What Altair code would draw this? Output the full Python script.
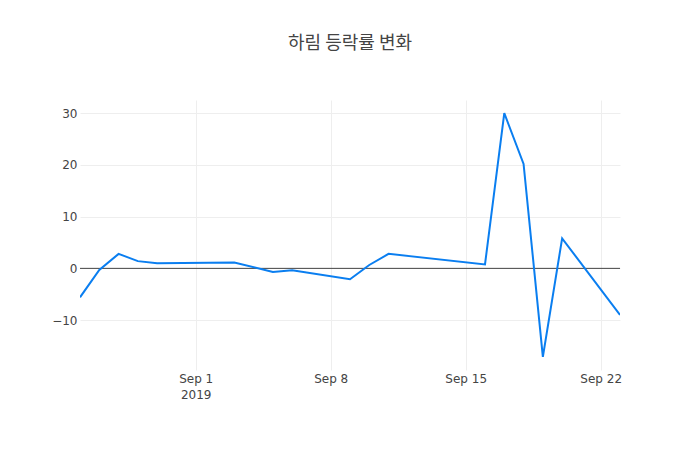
import altair as alt
import pandas as pd

dates = [
    "2019-08-26", "2019-08-27", "2019-08-28", "2019-08-29", "2019-08-30",
    "2019-09-03", "2019-09-05", "2019-09-06", "2019-09-09", "2019-09-10",
    "2019-09-11", "2019-09-16", "2019-09-17", "2019-09-18", "2019-09-19",
    "2019-09-20", "2019-09-23",
]
change = [
    -5.6, -0.3, 2.8, 1.4, 1.0,
    1.15, -0.7, -0.35, -2.1, 0.65,
    2.8, 0.77, 30.0, 20.2, -17.1,
    5.8, -9.0,
]

df = pd.DataFrame({"date": dates, "change": change})

tick_dates = [alt.DateTime(year=2019, month=m, date=d, utc=True)
              for m, d in [(9, 1), (9, 8), (9, 15), (9, 22)]]

x_scale = alt.Scale(
    type="utc",
    domain=[alt.DateTime(year=2019, month=8, date=26, utc=True),
            alt.DateTime(year=2019, month=9, date=23, utc=True)],
    nice=False,
)
y_scale = alt.Scale(domain=[-19.65, 32.55], nice=False, zero=False)

label_expr = (
    "utcdate(datum.value) == 1 && utcmonth(datum.value) == 8 "
    "? [utcFormat(datum.value, '%b %-d'), '2019'] "
    ": utcFormat(datum.value, '%b %-d')"
)

line = alt.Chart(df).mark_line(color="#0a7ef0", strokeWidth=2, clip=True).encode(
    x=alt.X(
        "date:T",
        scale=x_scale,
        axis=alt.Axis(
            values=tick_dates, labelExpr=label_expr, title=None,
            ticks=False, domain=False, grid=True, gridColor="#eeeeee",
            labelColor="#444444", labelFontSize=12, labelPadding=3,
            labelLineHeight=16, labelFont="DejaVu Sans",
        ),
    ),
    y=alt.Y(
        "change:Q",
        scale=y_scale,
        axis=alt.Axis(
            values=[-10, 0, 10, 20, 30], title=None, ticks=False, domain=False,
            grid=True, gridColor="#eeeeee", labelColor="#444444",
            labelFontSize=12, labelPadding=3, labelFont="DejaVu Sans",
        ),
    ),
)

zero = alt.Chart(pd.DataFrame({"y": [0]})).mark_rule(color="#444444", strokeWidth=1).encode(
    y=alt.Y("y:Q", scale=y_scale)
)

chart = (
    alt.layer(zero, line)
    .properties(
        width=540,
        height=270,
        autosize=alt.AutoSizeParams(type="none"),
        padding={"left": 72, "top": 92, "right": 72, "bottom": 72},
        title=alt.TitleParams(
            "하림 등락률 변화", fontSize=18, font="Noto Sans CJK KR",
            fontWeight="normal", color="#444444", anchor="middle", offset=47,
        ),
    )
    .configure_view(stroke=None)
)

chart.save("out.html", embed_options={"renderer": "svg", "actions": False})
